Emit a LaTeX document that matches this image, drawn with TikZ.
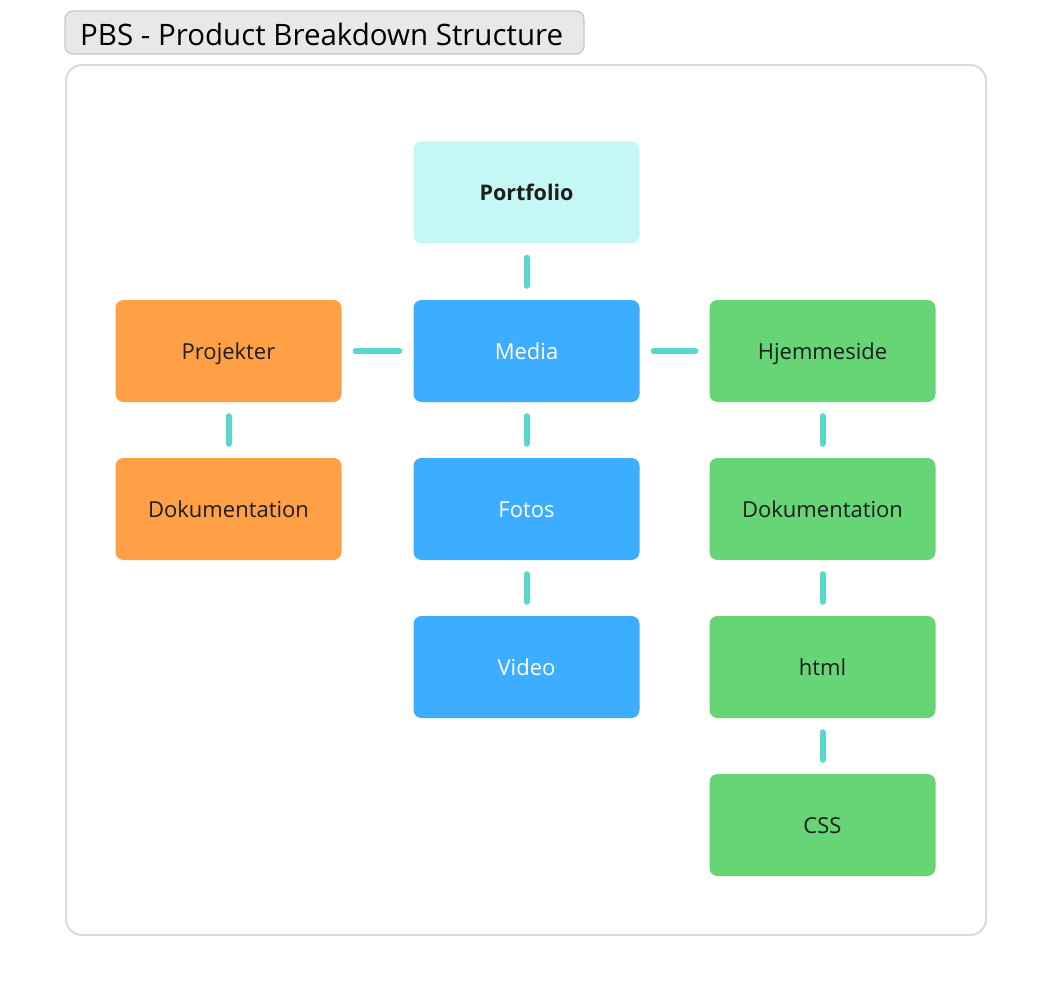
\documentclass[tikz,border=0pt]{standalone}
\usepackage{fontspec}
\setmainfont{Open Sans}
\usepackage{xcolor}
\definecolor{linkc}{HTML}{58D8CB}
\definecolor{topc}{HTML}{C5F8F4}
\definecolor{orangec}{HTML}{FFA046}
\definecolor{bluec}{HTML}{3DADFF}
\definecolor{greenc}{HTML}{66D575}
\definecolor{textc}{HTML}{1E1E1E}
\begin{document}
\begin{tikzpicture}[x=1pt,y=-1pt,
  box/.style={rounded corners=8pt,minimum width=226pt,minimum height=102pt,inner sep=0pt,
    text height=16pt,text depth=0pt,font=\fontsize{22}{26}\selectfont,text=textc},
  top/.style={box,fill=topc,font=\fontsize{21.5}{26}\selectfont\bfseries},
  proj/.style={box,fill=orangec},
  med/.style={box,fill=bluec,text=white},
  web/.style={box,fill=greenc},
  link/.style={linkc,line width=6pt,line cap=round,shorten <=14pt,shorten >=14pt}]
\useasboundingbox[fill=white] (0,0) rectangle (1051,1000);
% title and frame
\draw[rounded corners=8pt,fill=black!9,draw=black!22,line width=1.2pt] (65,11) rectangle (584,54);
\node (title) at (80,34) [anchor=west,inner sep=0pt,font=\fontsize{29.5}{34}\selectfont,text=black] {PBS - Product Breakdown Structure};
\draw[rounded corners=16pt,draw=black!14,line width=2pt] (66,65) rectangle (986,935);
% nodes
\node (port) at (526.5,192.5) [top] {Portfolio};
\node (proj) at (228.5,351) [proj] {Projekter};
\node (media) at (526.5,351) [med] {Media};
\node (hjem) at (822.5,351) [web] {Hjemmeside};
\node (pdok) at (228.5,509) [proj] {Dokumentation};
\node (fotos) at (526.5,509) [med] {Fotos};
\node (hdok) at (822.5,509) [web] {Dokumentation};
\node (video) at (526.5,667) [med] {Video};
\node (html) at (822.5,667) [web] {html};
\node (css) at (822.5,825) [web] {CSS};
% links
\draw[link] (port) -- (media);
\draw[link] (proj) -- (media);
\draw[link] (media) -- (hjem);
\draw[link] (proj) -- (pdok);
\draw[link] (media) -- (fotos);
\draw[link] (fotos) -- (video);
\draw[link] (hjem) -- (hdok);
\draw[link] (hdok) -- (html);
\draw[link] (html) -- (css);
\end{tikzpicture}
\end{document}
